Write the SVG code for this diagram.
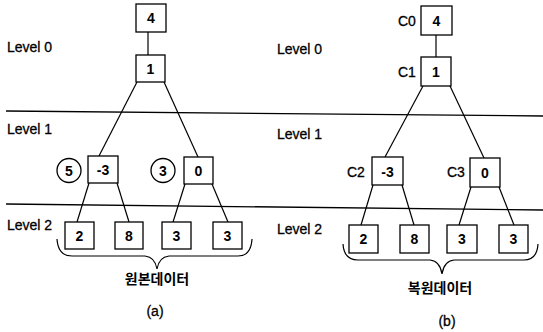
<svg xmlns="http://www.w3.org/2000/svg" width="543" height="332" viewBox="0 0 543 332">
  <style>
    .box { fill: #fff; stroke: #000; stroke-width: 1.3; }
    .ring { fill: #fff; stroke: #000; stroke-width: 1.3; }
    .edge { stroke: #000; stroke-width: 1.2; fill: none; }
    .sep { stroke: #000; stroke-width: 1.3; fill: none; }
    .brace { stroke: #000; stroke-width: 1.2; fill: none; }
    .num { font-family: "Liberation Sans", Arial, sans-serif; font-size: 14px; font-weight: bold; text-anchor: middle; fill: #000; }
    .lbl { font-family: "Liberation Sans", Arial, sans-serif; font-size: 14px; fill: #000; stroke: #000; stroke-width: 0.3; }
    .cap { font-family: "Liberation Sans", "Noto Sans CJK KR", sans-serif; font-size: 14px; font-weight: bold; text-anchor: middle; fill: #000; }
    .sub { font-family: "Liberation Sans", Arial, sans-serif; font-size: 14px; text-anchor: middle; fill: #000; stroke: #000; stroke-width: 0.3; }
  </style>

  <!-- level separators -->
  <g id="separators">
    <line class="sep" x1="6" y1="111" x2="543" y2="116"/>
    <line class="sep" x1="6" y1="204" x2="543" y2="210"/>
  </g>

  <!-- level labels -->
  <g id="level-labels">
    <text class="lbl" x="7" y="52">Level 0</text>
    <text class="lbl" x="7" y="134">Level 1</text>
    <text class="lbl" x="7" y="230">Level 2</text>
    <text class="lbl" x="277" y="54">Level 0</text>
    <text class="lbl" x="277" y="139">Level 1</text>
    <text class="lbl" x="277" y="234">Level 2</text>
  </g>

  <!-- connectors -->
  <g id="connectors">
    <line class="edge" x1="148" y1="32" x2="148" y2="55"/>
    <line class="edge" x1="137" y1="82" x2="99" y2="156"/>
    <line class="edge" x1="164" y1="82" x2="198" y2="157"/>
    <line class="edge" x1="89" y1="183" x2="77" y2="222"/>
    <line class="edge" x1="117" y1="183" x2="129" y2="222"/>
    <line class="edge" x1="185" y1="184" x2="173" y2="222"/>
    <line class="edge" x1="212" y1="184" x2="228" y2="222"/>

    <line class="edge" x1="436" y1="35" x2="436" y2="57"/>
    <line class="edge" x1="423" y1="86" x2="385" y2="157"/>
    <line class="edge" x1="450" y1="86" x2="484" y2="158"/>
    <line class="edge" x1="373" y1="185" x2="361" y2="225"/>
    <line class="edge" x1="402" y1="185" x2="414" y2="225"/>
    <line class="edge" x1="471" y1="187" x2="459" y2="225"/>
    <line class="edge" x1="499" y1="187" x2="514" y2="225"/>
  </g>

  <!-- (a) tree -->
  <g id="a-root"><rect class="box" x="136" y="4" width="30" height="28"/><text class="num" x="151" y="23">4</text></g>
  <g id="a-l0"><rect class="box" x="136" y="55" width="29" height="27"/><text class="num" x="150.5" y="74">1</text></g>
  <g id="a-w5"><circle class="ring" cx="69" cy="170.5" r="12"/><text class="num" x="69" y="175.5">5</text></g>
  <g id="a-l1a"><rect class="box" x="88" y="156" width="30" height="27"/><text class="num" x="103" y="175">-3</text></g>
  <g id="a-w3"><circle class="ring" cx="163" cy="170.5" r="12"/><text class="num" x="163" y="175.5">3</text></g>
  <g id="a-l1b"><rect class="box" x="184" y="157" width="29" height="27"/><text class="num" x="198.5" y="176">0</text></g>
  <g id="a-d0"><rect class="box" x="65" y="222" width="29" height="27"/><text class="num" x="79.5" y="241">2</text></g>
  <g id="a-d1"><rect class="box" x="115" y="222" width="28" height="27"/><text class="num" x="129" y="241">8</text></g>
  <g id="a-d2"><rect class="box" x="162" y="222" width="29" height="27"/><text class="num" x="176.5" y="241">3</text></g>
  <g id="a-d3"><rect class="box" x="213" y="222" width="29" height="27"/><text class="num" x="227.5" y="241">3</text></g>

  <!-- (b) tree -->
  <g id="b-root"><rect class="box" x="421" y="6" width="31" height="29"/><text class="num" x="436.5" y="26">4</text><text class="lbl" x="398" y="26">C0</text></g>
  <g id="b-l0"><rect class="box" x="421" y="57" width="30" height="29"/><text class="num" x="436" y="77">1</text><text class="lbl" x="398" y="77">C1</text></g>
  <g id="b-l1a"><rect class="box" x="372" y="157" width="31" height="28"/><text class="num" x="387.5" y="177">-3</text><text class="lbl" x="347" y="177">C2</text></g>
  <g id="b-l1b"><rect class="box" x="470" y="158" width="30" height="29"/><text class="num" x="485" y="178">0</text><text class="lbl" x="447" y="177">C3</text></g>
  <g id="b-d0"><rect class="box" x="349" y="225" width="29" height="28"/><text class="num" x="363.5" y="244">2</text></g>
  <g id="b-d1"><rect class="box" x="400" y="225" width="29" height="28"/><text class="num" x="414.5" y="244">8</text></g>
  <g id="b-d2"><rect class="box" x="447" y="225" width="30" height="28"/><text class="num" x="462" y="244">3</text></g>
  <g id="b-d3"><rect class="box" x="499" y="225" width="29" height="28"/><text class="num" x="513.5" y="244">3</text></g>

  <!-- braces and captions -->
  <g id="a-brace">
    <path class="brace" d="M57,239 Q58,256 72,256 L145,256 Q155,257 157,269 Q159,257 169,256 L238,256 Q251,256 252,239"/>
    <text class="cap" x="157" y="284">원본데이터</text>
    <text class="sub" x="155" y="316">(a)</text>
  </g>
  <g id="b-brace">
    <path class="brace" d="M343,244 Q344,260 358,260 L430,260 Q440,261 442,274 Q444,261 454,260 L524,260 Q537,260 538,244"/>
    <text class="cap" x="440" y="293">복원데이터</text>
    <text class="sub" x="447" y="326">(b)</text>
  </g>
</svg>
